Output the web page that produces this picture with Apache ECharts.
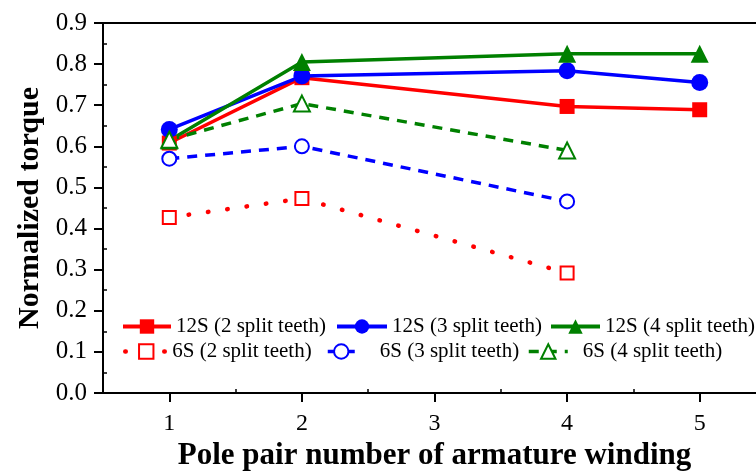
<!DOCTYPE html>
<html>
<head>
<meta charset="utf-8">
<script src="https://cdn.jsdelivr.net/npm/echarts@6/dist/echarts.min.js"></script>
<style>
html,body{margin:0;padding:0;background:#fff;}
#chart{width:756px;height:472px;}
</style>
</head>
<body>
<div id="chart"></div>
<script>
// ---- data ----
const names = [
  '12S (2 split teeth)', '12S (3 split teeth)', '12S (4 split teeth)',
  '6S (2 split teeth)', '6S (3 split teeth)', '6S (4 split teeth)'
];
const x12 = [1, 2, 4, 5];
const x6 = [1, 2, 4];
const s12_2 = [0.608, 0.767, 0.697, 0.689];
const s12_3 = [0.641, 0.771, 0.784, 0.755];
const s12_4 = [0.614, 0.805, 0.825, 0.825];
const s6_2 = [0.427, 0.473, 0.292];
const s6_3 = [0.570, 0.600, 0.466];
const s6_4 = [0.616, 0.704, 0.590];
const xTicks = [1, 2, 3, 4, 5];
const xMinorTicks = [1.5, 2.5, 3.5, 4.5];
const yMinorTicks = [0.05, 0.15, 0.25, 0.35, 0.45, 0.55, 0.65, 0.75, 0.85];

const FONT = '"Liberation Serif", "Times New Roman", serif';
const pair = (xs, ys) => xs.map((x, i) => [x, ys[i]]);

function lineSeries(name, xs, ys, color, symbol, size, lineType, width, cap) {
  return {
    name: name, type: 'line', xAxisIndex: 0, yAxisIndex: 0,
    data: pair(xs, ys),
    symbol: symbol, symbolSize: size,
    itemStyle: { color: color },
    lineStyle: { color: color, width: width, type: lineType, cap: cap || 'butt' },
    z: 3
  };
}

function legendItem(name, left, top, w, lineW, extraPad) {
  return {
    data: [name], left: left, top: top, padding: 0,
    itemWidth: w, itemHeight: 18,
    selectedMode: false,
    lineStyle: { width: lineW },
    textStyle: { fontFamily: FONT, fontSize: 21, color: '#000', padding: [0, 0, 0, extraPad || 0] }
  };
}

const chart = echarts.init(document.getElementById('chart'), null, { renderer: 'canvas' });
chart.setOption({
  animation: false,
  backgroundColor: '#fff',
  grid: { left: 103, right: -10, top: 23, bottom: 79, outerBoundsMode: 'none', containLabel: false, show: true, borderColor: '#000', borderWidth: 2, backgroundColor: 'transparent' },
  xAxis: [{
    type: 'value', min: 0.5, max: 5.5, position: 'bottom',
    axisLine: { show: true, lineStyle: { color: '#000', width: 2 } },
    axisTick: { show: true, customValues: xTicks, length: 9, inside: false, lineStyle: { color: '#000', width: 2 } },
    axisLabel: { customValues: xTicks, fontFamily: FONT, fontSize: 24, color: '#000', margin: 19 },
    splitLine: { show: false },
    name: 'Pole pair number of armature winding', nameLocation: 'middle', nameGap: 47,
    nameTextStyle: { fontFamily: FONT, fontSize: 31, fontWeight: 'bold', color: '#000' }
  }, {
    type: 'value', min: 0.5, max: 5.5, position: 'bottom',
    axisLine: { show: false },
    axisTick: { show: true, customValues: xMinorTicks, length: 4, inside: true, lineStyle: { color: '#000', width: 1.5 } },
    axisLabel: { show: false }, splitLine: { show: false }
  }],
  yAxis: [{
    type: 'value', min: 0, max: 0.9, interval: 0.1, position: 'left',
    axisLine: { show: true, lineStyle: { color: '#000', width: 2 } },
    axisTick: { show: true, length: 9, inside: false, lineStyle: { color: '#000', width: 2 } },
    axisLabel: { fontFamily: FONT, fontSize: 25, color: '#000', margin: 16, formatter: v => v.toFixed(1) },
    splitLine: { show: false },
    name: 'Normalized torque', nameLocation: 'middle', nameGap: 58,
    nameTextStyle: { fontFamily: FONT, fontSize: 30, fontWeight: 'bold', color: '#000' }
  }, {
    type: 'value', min: 0, max: 0.9, position: 'left',
    axisLine: { show: false },
    axisTick: { show: true, customValues: yMinorTicks, length: 4, inside: true, lineStyle: { color: '#000', width: 1.5 } },
    axisLabel: { show: false }, splitLine: { show: false }
  }],
  legend: [
    legendItem(names[0], 121, 316, 48, 4),
    legendItem(names[1], 335, 316, 50, 4),
    legendItem(names[2], 549, 316, 49, 4),
    legendItem(names[3], 123, 341, 42, 4.5),
    legendItem(names[4], 326, 341, 27, 3.5, 20),
    legendItem(names[5], 527, 341, 39, 3.5, 10)
  ],
  series: [
    lineSeries(names[0], x12, s12_2, '#ff0000', 'rect', 15, 'solid', 3.5),
    lineSeries(names[1], x12, s12_3, '#0000ff', 'circle', 17, 'solid', 3.5),
    lineSeries(names[2], x12, s12_4, '#008000', 'triangle', 18, 'solid', 3.5),
    lineSeries(names[3], x6, s6_2, '#ff0000', 'emptyRect', 13, [0.5, 19], 4.5, 'round'),
    lineSeries(names[4], x6, s6_3, '#0000ff', 'emptyCircle', 14, [10, 8], 3.5),
    lineSeries(names[5], x6, s6_4, '#008000', 'emptyTriangle', 16, [10, 8], 3.5)
  ]
});
</script>
</body>
</html>
